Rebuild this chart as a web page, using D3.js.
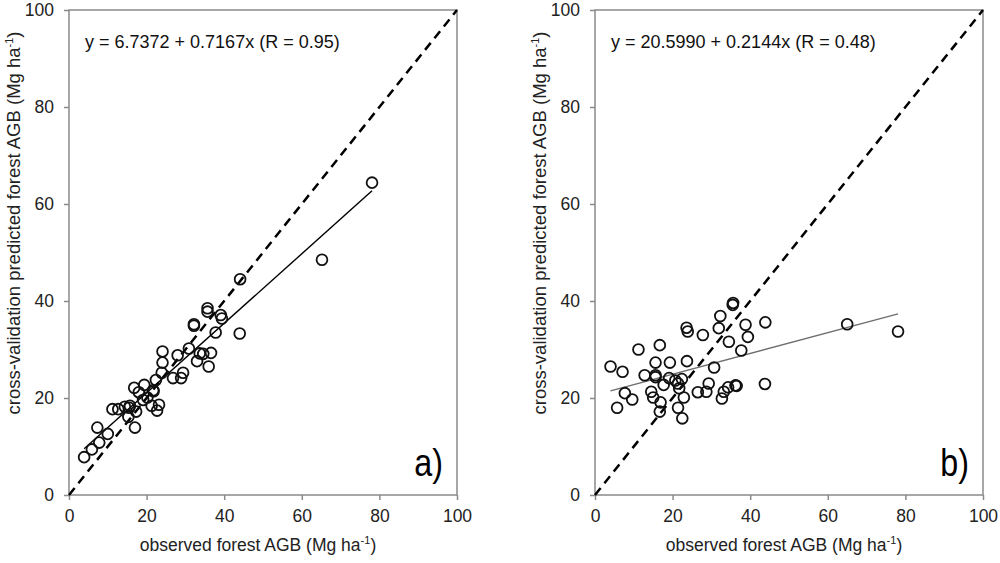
<!DOCTYPE html>
<html>
<head>
<meta charset="utf-8">
<script src="https://cdn.jsdelivr.net/npm/d3@7"></script>
<style>
  body { margin: 0; background: #fff; }
  svg text { font-family: "Liberation Sans", Arial, sans-serif; }
  .axis path, .axis line { stroke: #8a8a8a; stroke-width: 1.5; }
  .axis text { fill: #222; font-size: 17.5px; }
</style>
</head>
<body>
<div id="chart"></div>
<script>

// observed vs cross-validation predicted AGB, panel a)
var obsA  = [78.1, 65.2, 44.1, 35.7, 35.7, 39.1, 39.4, 32.2, 32.2, 37.8, 44.0, 30.9, 24.1, 28.0, 33.7, 34.6,
             36.6, 33.0, 36.0, 24.1, 23.9, 29.4, 28.9, 26.8, 22.4, 19.4, 16.8, 18.0, 21.7, 21.8, 20.2, 19.1,
             21.3, 23.2, 22.7, 11.2, 12.7, 14.4, 15.7, 15.5, 17.3, 15.3, 17.0, 7.3, 10.0, 7.8, 5.9, 3.9];
var predA = [64.4, 48.5, 44.5, 38.5, 37.8, 37.1, 36.4, 35.2, 34.9, 33.5, 33.3, 30.2, 29.6, 28.8, 29.2, 29.1,
             29.3, 27.6, 26.5, 27.3, 25.2, 25.2, 24.1, 24.1, 23.7, 22.7, 22.1, 21.2, 21.6, 21.4, 20.1, 19.6,
             18.4, 18.6, 17.4, 17.7, 17.7, 18.2, 18.4, 18.0, 17.2, 16.1, 13.9, 13.9, 12.6, 10.8, 9.4, 7.8];

// panel b)
var obsB  = [35.6, 35.5, 32.3, 43.9, 38.8, 23.6, 23.9, 31.9, 27.8, 39.4, 34.5, 16.7, 11.2, 37.7, 4.0, 7.1,
             15.6, 19.3, 23.7, 30.7, 12.8, 15.6, 15.6, 19.1, 17.7, 20.7, 21.4, 22.4, 21.7, 29.3, 26.5, 28.7,
             33.2, 34.3, 36.2, 36.5, 32.7, 7.7, 9.6, 14.5, 15.0, 16.9, 16.7, 22.9, 21.4, 22.5, 5.7, 43.8,
             65.0, 78.1];
var predB = [39.6, 39.2, 36.9, 35.6, 35.1, 34.5, 33.7, 34.4, 33.0, 32.6, 31.6, 30.9, 30.0, 29.8, 26.5, 25.4,
             27.3, 27.3, 27.6, 26.3, 24.7, 24.7, 24.3, 24.1, 22.7, 23.6, 23.0, 23.9, 22.0, 23.0, 21.2, 21.3,
             21.3, 22.2, 22.6, 22.5, 19.9, 21.0, 19.7, 21.3, 20.1, 19.1, 17.2, 20.1, 18.0, 15.8, 18.0, 22.9,
             35.2, 33.7];

var ticks = [0, 20, 40, 60, 80, 100];
var fitA = {a: 6.7372, b: 0.7167, r: 0.95, tag: "a)"};
var fitB = {a: 20.5990, b: 0.2144, r: 0.48, tag: "b)"};

var svg = d3.select("#chart").append("svg")
    .attr("width", 1000)
    .attr("height", 563);

/*
 * ScatterPanel - one observed vs predicted plot
 */
ScatterPanel = function(_left, _obs, _pred, _fit, _lineColor){
    this.left = _left;
    this.obs = _obs;
    this.pred = _pred;
    this.fit = _fit;
    this.lineColor = _lineColor;
    this.initVis();
}

ScatterPanel.prototype.initVis = function(){
    var vis = this;

    vis.width = 388;
    vis.height = 485;

    vis.g = svg.append("g")
        .attr("transform", "translate(" + vis.left + ",10)");

    vis.x = d3.scaleLinear().domain([0, 100]).range([0, vis.width]);
    vis.y = d3.scaleLinear().domain([0, 100]).range([vis.height, 0]);

    // frame
    vis.g.append("rect")
        .attr("width", vis.width)
        .attr("height", vis.height)
        .attr("fill", "none")
        .attr("stroke", "#8a8a8a")
        .attr("stroke-width", 1.5);

    vis.g.append("g")
        .attr("class", "axis")
        .attr("transform", "translate(0," + vis.height + ")")
        .call(d3.axisBottom(vis.x).tickValues(ticks).tickSize(5).tickPadding(10).tickSizeOuter(0))
        .call(g => g.select(".domain").remove());

    vis.g.append("g")
        .attr("class", "axis")
        .call(d3.axisLeft(vis.y).tickValues(ticks).tickSize(5).tickPadding(10).tickSizeOuter(0))
        .call(g => g.select(".domain").remove());

    // axis titles
    var xt = vis.g.append("text")
        .attr("x", vis.width / 2 - 5)
        .attr("y", vis.height + 56)
        .attr("text-anchor", "middle")
        .style("font-size", "17.5px")
        .attr("fill", "#222")
        .text("observed forest AGB (Mg ha");
    xt.append("tspan").attr("dy", -7).style("font-size", "11px").text("-1");
    xt.append("tspan").attr("dy", 7).text(")");

    var yt = vis.g.append("text")
        .attr("transform", "translate(-49,213) rotate(-90)")
        .attr("text-anchor", "middle")
        .style("font-size", "18.5px")
        .attr("fill", "#222")
        .text("cross-validation predicted forest AGB (Mg ha");
    yt.append("tspan").attr("dy", -7).style("font-size", "11px").text("-1");
    yt.append("tspan").attr("dy", 7).text(")");

    vis.updateVis();
}

ScatterPanel.prototype.updateVis = function(){
    var vis = this;

    // 1:1 line
    vis.g.append("line")
        .attr("x1", vis.x(0)).attr("y1", vis.y(0))
        .attr("x2", vis.x(100)).attr("y2", vis.y(100))
        .attr("stroke", "#000")
        .attr("stroke-width", 2.5)
        .attr("stroke-dasharray", "9,6");

    // regression line over observed range
    var x0 = d3.min(vis.obs), x1 = d3.max(vis.obs);
    vis.g.append("line")
        .attr("x1", vis.x(x0)).attr("y1", vis.y(vis.fit.a + vis.fit.b * x0))
        .attr("x2", vis.x(x1)).attr("y2", vis.y(vis.fit.a + vis.fit.b * x1))
        .attr("stroke", vis.lineColor)
        .attr("stroke-width", 1.4);

    var pts = vis.obs.map((d, i) => ({x: d, y: vis.pred[i]}));
    vis.g.selectAll("circle")
        .data(pts)
        .enter()
        .append("circle")
        .attr("cx", d => vis.x(d.x))
        .attr("cy", d => vis.y(d.y))
        .attr("r", 5.4)
        .attr("fill", "none")
        .attr("stroke", "#111")
        .attr("stroke-width", 1.8);

    vis.g.append("text")
        .attr("x", 16)
        .attr("y", 38)
        .style("font-size", "18px")
        .attr("fill", "#111")
        .text("y = " + vis.fit.a.toFixed(4) + " + " + vis.fit.b.toFixed(4) + "x (R = " + vis.fit.r.toFixed(2) + ")");

    vis.g.append("text")
        .attr("transform", "translate(" + (vis.width - 14) + "," + (vis.height - 19) + ") scale(0.85,1)")
        .attr("text-anchor", "end")
        .style("font-size", "38px")
        .attr("fill", "#000")
        .text(vis.fit.tag);
}

new ScatterPanel(69, obsA, predA, fitA, "#000");
new ScatterPanel(595, obsB, predB, fitB, "#6e6e6e");

</script>
</body>
</html>
